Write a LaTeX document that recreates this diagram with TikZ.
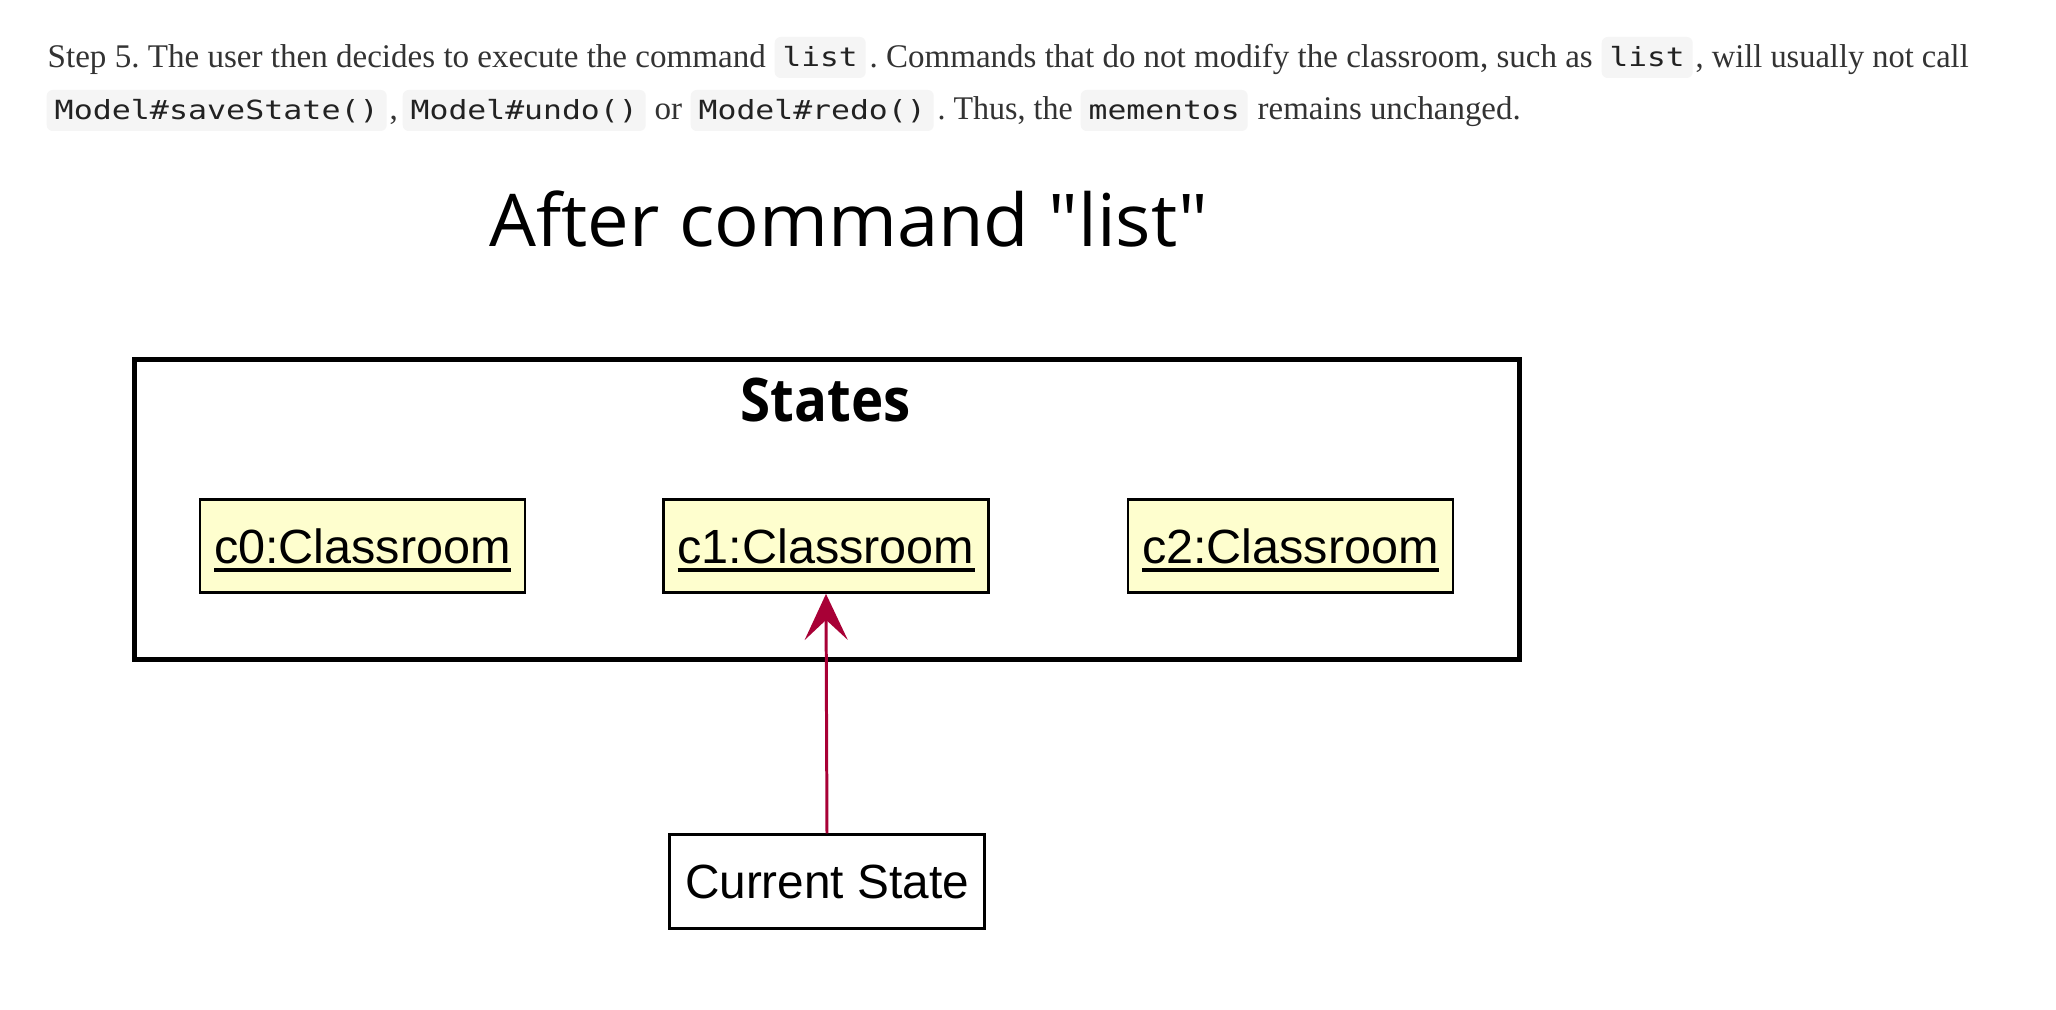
\documentclass[tikz,border=0pt]{standalone}
\usepackage{fontspec}
\usepackage{graphicx}
\usetikzlibrary{arrows.meta}
\setmainfont{Liberation Serif}
\newfontfamily\umlsans{Liberation Sans}
\newfontfamily\titlesans{Open Sans}
\newfontfamily\codemono{DejaVu Sans Mono}
\definecolor{proseGray}{HTML}{333333}
\definecolor{codeBack}{HTML}{F5F5F5}
\definecolor{codeInk}{HTML}{222222}
\definecolor{objYellow}{HTML}{FEFECE}
\definecolor{linkRed}{HTML}{A80036}
\newlength\pxu
\setlength\pxu{0.01cm}
\newcommand{\fitrun}[2]{\resizebox{#1\pxu}{\height}{#2}}
\newcommand{\ulab}[1]{\sbox0{#1}\usebox0\llap{\smash{\raisebox{-2.5pt}{\rule{\wd0}{1pt}}}}}
\frenchspacing

\tikzset{
    prose/.style={inner sep=0pt, anchor=base west, text=proseGray, font=\fontsize{9.4}{11}\selectfont},
    code/.style={fill=codeBack, rounded corners=0.06cm, inner xsep=0.08cm, inner ysep=0pt,
        text height=0.30cm, text depth=0.11cm, anchor=base west, text=codeInk,
        font=\codemono\fontsize{7.5}{8}\selectfont},
    frame/.style={draw=black, line width=1.42pt, minimum width=13.84cm, minimum height=3.00cm, inner sep=0pt},
    obj/.style={draw=black, line width=0.77pt, fill=objYellow, minimum width=3.25cm, minimum height=0.93cm,
        inner sep=0pt, font=\umlsans\fontsize{13.65}{15}\selectfont},
    pointer/.style={draw=black, line width=0.85pt, fill=white, minimum width=3.14cm, minimum height=0.93cm,
        inner sep=0pt, font=\umlsans\fontsize{13.65}{15}\selectfont},
    link/.style={draw=linkRed, line width=0.85pt, -{Stealth[length=0.46cm, width=0.43cm, inset=0.2cm]}}
}

\begin{document}
\begin{tikzpicture}[x=0.01cm, y=-0.01cm]
\useasboundingbox (0,0) rectangle (2056,1010);
\fill[white] (0,0) rectangle (2056,1010);

% explanation above the diagram
\node[prose] (stepA) at (47,67.5) {\fitrun{718}{Step 5. The user then decides to execute the command}};
\node[code] (listA) at (774,67) {\fitrun{75}{list}};
\node[prose] (stepB) at (869,67.5) {\fitrun{723}{. Commands that do not modify the classroom, such as}};
\node[code] (listB) at (1601,67) {\fitrun{75}{list}};
\node[prose] (stepC) at (1695,67.5) {\fitrun{273}{, will usually not call}};

\node[code] (saveSt) at (46,120) {\fitrun{324}{Model\#saveState()}};
\node[prose] (commaA) at (389,120) {,};
\node[code] (undoM) at (402,120) {\fitrun{227}{Model\#undo()}};
\node[prose] (orW) at (654,120) {or};
\node[code] (redoM) at (690,120) {\fitrun{227}{Model\#redo()}};
\node[prose] (thusW) at (937,120) {\fitrun{135}{. Thus, the}};
\node[code] (memento) at (1080,120) {\fitrun{151}{mementos}};
\node[prose] (remainW) at (1257,120) {\fitrun{263}{remains unchanged.}};

% diagram
\node[inner sep=0pt, anchor=base west, font=\titlesans\fontsize{20.7}{24}\selectfont] (title) at (489,247)
    {\fitrun{719}{After command "list"}};

\node[frame] (states) at (827,509.5) {};
\node[inner sep=0pt, anchor=base west, font=\titlesans\bfseries\fontsize{17.1}{20}\selectfont] (statesT) at (740,422)
    {\fitrun{170}{States}};

\node[obj] (c0) at (362.5,546) {\ulab{\fitrun{297}{c0:Classroom}}};
\node[obj] (c1) at (826,546) {\ulab{\fitrun{297}{c1:Classroom}}};
\node[obj] (c2) at (1290.5,546) {\ulab{\fitrun{297}{c2:Classroom}}};

\node[pointer] (cur) at (827,881.5) {\fitrun{284}{Current State}};

\draw[link] (cur.north) -- (c1.south);
\end{tikzpicture}
\end{document}
